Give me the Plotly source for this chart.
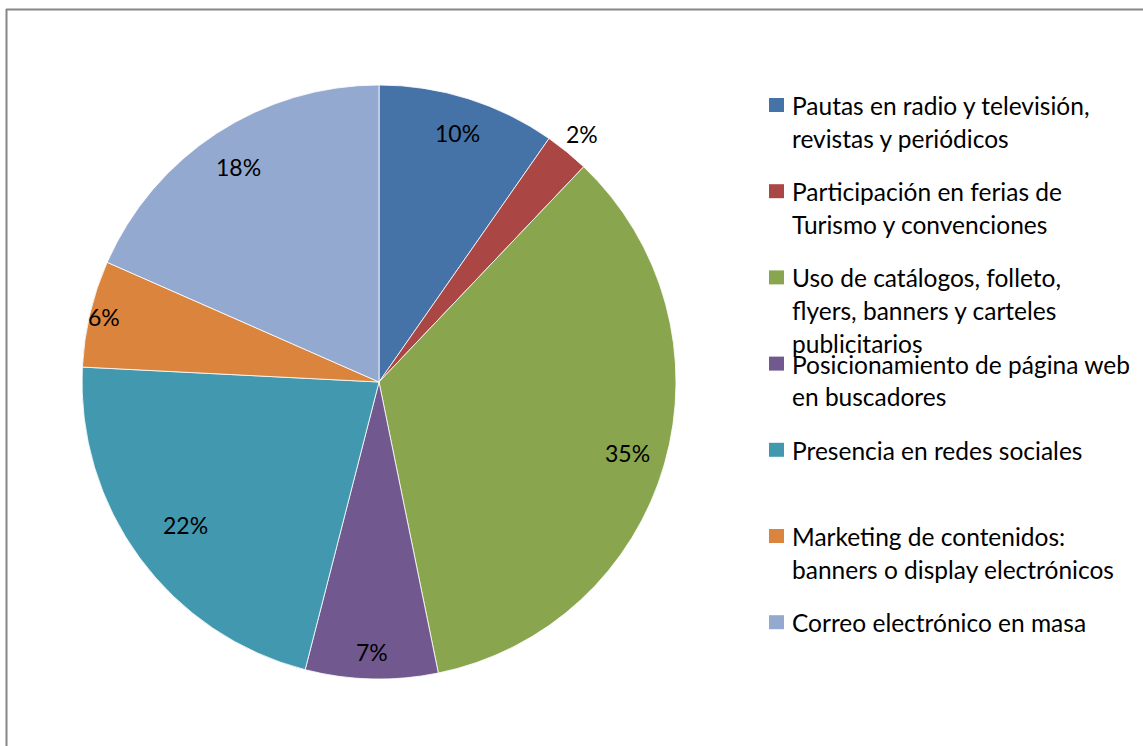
import math
import plotly.graph_objects as go

# Shares of each promotion channel (percent)
categories = [
    "Pautas en radio y televisión, revistas y periódicos",
    "Participación en ferias de Turismo y convenciones",
    "Uso de catálogos, folleto, flyers, banners y carteles publicitarios",
    "Posicionamiento de página web en buscadores",
    "Presencia en redes sociales",
    "Marketing de contenidos: banners o display electrónicos",
    "Correo electrónico en masa",
]
values = [9.7, 2.4, 34.7, 7.2, 21.8, 5.8, 18.4]

# Legend text broken into the lines it is shown on
legend_lines = [
    ["Pautas en radio y televisión,", "revistas y periódicos"],
    ["Participación en ferias de", "Turismo y convenciones"],
    ["Uso de catálogos, folleto,", "flyers, banners y carteles", "publicitarios"],
    ["Posicionamiento de página web", "en buscadores"],
    ["Presencia en redes sociales"],
    ["Marketing de contenidos:", "banners o display electrónicos"],
    ["Correo electrónico en masa"],
]

colors = ["#4572A7", "#AA4643", "#89A54E", "#71588F", "#4198AF", "#DB843D", "#93A9CF"]

W, H = 1143, 746
FONT = "Lato"


def px(x):
    return x / W


def py(y):
    return 1 - y / H


# pie geometry in pixels
CX, CY, R = 379, 382, 297

fig = go.Figure(
    go.Pie(
        labels=categories,
        values=values,
        sort=False,
        direction="clockwise",
        rotation=0,
        marker=dict(colors=colors, line=dict(color="white", width=0.8)),
        textinfo="none",
        hoverinfo="label+percent",
        showlegend=False,
        domain=dict(x=[px(CX - R), px(CX + R)], y=[py(CY + R), py(CY - R)]),
    )
)

annotations = []
shapes = []

# percentage labels around the ring, placed at each slice's mid angle
label_r = [0.88, 1.08, 0.87, 0.91, 0.81, 0.95, 0.865]
total = sum(values)
cum = 0.0
for v, fr in zip(values, label_r):
    mid = (cum + v / 2) / total * 2 * math.pi
    cum += v
    lx = CX + fr * R * math.sin(mid)
    ly = CY - fr * R * math.cos(mid)
    annotations.append(
        dict(
            x=px(lx), y=py(ly), xref="paper", yref="paper",
            text=f"{round(v / total * 100)}%", showarrow=False,
            xanchor="center", yanchor="middle",
            font=dict(family=FONT, size=23, color="black"),
        )
    )

# legend: coloured square plus wrapped text for each category
LEG_TOP, LEG_STEP, LINE_H = 105, 86.2, 32.7
for i, (lines, col) in enumerate(zip(legend_lines, colors)):
    yc = LEG_TOP + i * LEG_STEP
    shapes.append(
        dict(type="rect", xref="paper", yref="paper",
             x0=px(769), x1=px(784), y0=py(yc - 7), y1=py(yc + 7),
             fillcolor=col, line=dict(width=0))
    )
    for k, t in enumerate(lines):
        annotations.append(
            dict(
                x=px(790), y=py(yc + k * LINE_H + 0.5), xref="paper", yref="paper",
                text=t, showarrow=False, xanchor="left", yanchor="middle",
                font=dict(family=FONT, size=24.5, color="black"),
            )
        )

# chart frame (top and left edges visible)
shapes.append(dict(type="line", xref="paper", yref="paper",
                   x0=px(6), x1=1.0, y0=py(9.5), y1=py(9.5),
                   line=dict(color="#868686", width=2)))
shapes.append(dict(type="line", xref="paper", yref="paper",
                   x0=px(6.5), x1=px(6.5), y0=py(9), y1=0.0,
                   line=dict(color="#868686", width=2)))

fig.update_layout(
    width=W, height=H,
    margin=dict(l=0, r=0, t=0, b=0),
    paper_bgcolor="white",
    plot_bgcolor="white",
    annotations=annotations,
    shapes=shapes,
    font=dict(family=FONT),
)

fig.write_html("out.html")
